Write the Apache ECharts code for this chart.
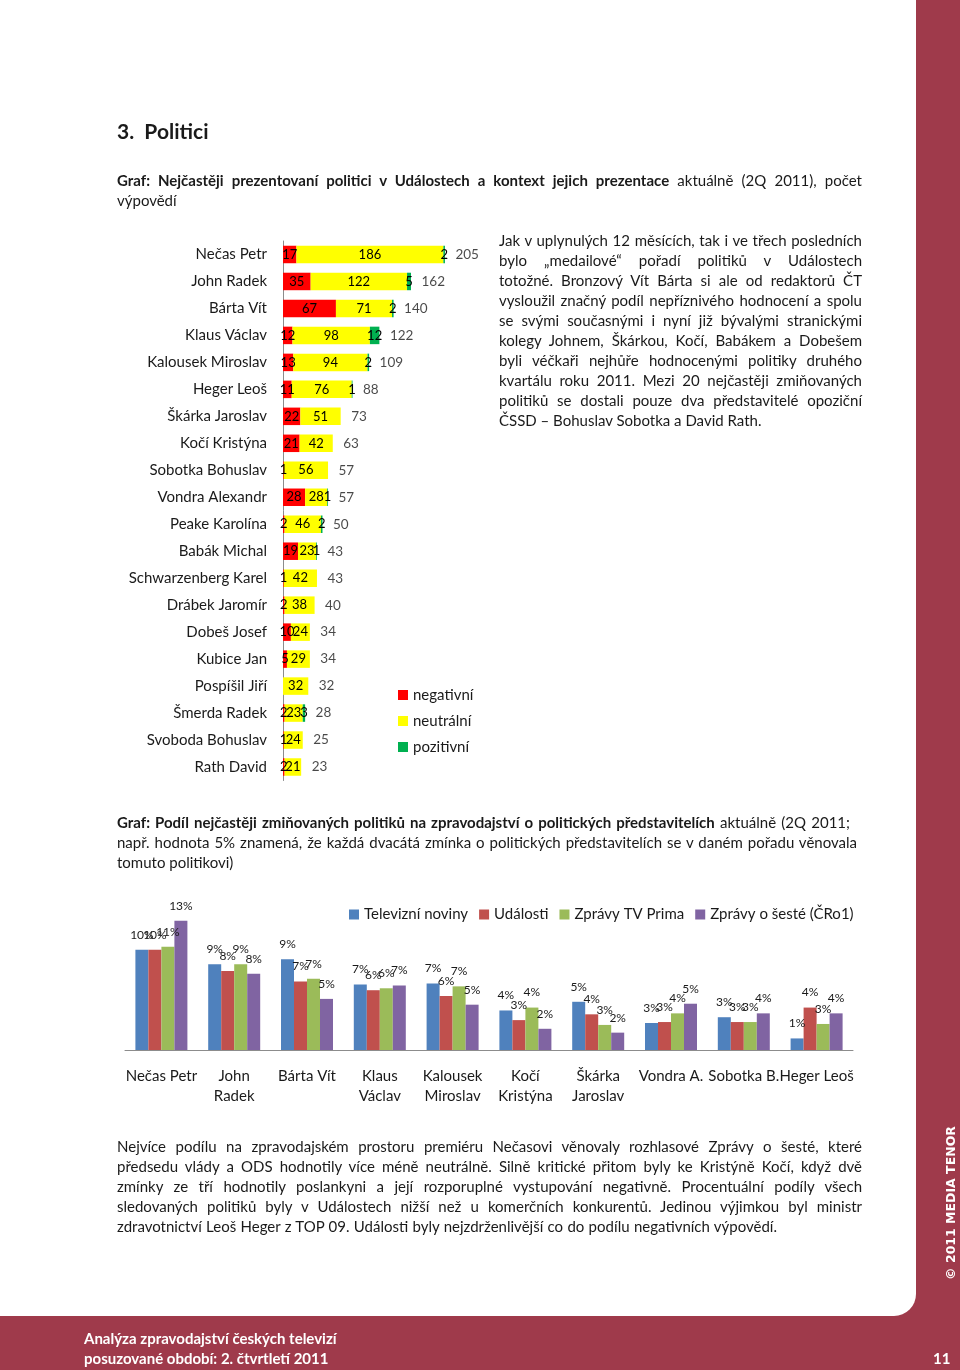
<!DOCTYPE html>
<html><head><meta charset="utf-8">
<script src="https://cdn.jsdelivr.net/npm/echarts@6/dist/echarts.min.js"></script>
<style>
html,body{margin:0;padding:0;}
body{width:960px;height:1370px;position:relative;background:#9F3A4B;overflow:hidden;font-family:Lato,'Liberation Sans',sans-serif;color:#1a1a1a;}
#page{position:absolute;left:0;top:0;width:916px;height:1316px;background:#fff;border-bottom-right-radius:22px;}
#chart{position:absolute;left:0;top:0;width:960px;height:1370px;}
.t{position:absolute;white-space:nowrap;font-size:15px;line-height:20px;}
.j{display:inline-block;}
.w{color:#fff;font-weight:bold;}
</style></head>
<body>
<div id="page"></div>
<div id="chart"></div>

<div class="t" style="left:117px;top:118px;font-size:21px;line-height:26px;font-weight:bold;">3.&nbsp; Politici</div>
<div class="t" style="left:117px;top:170px;"><span class="j" data-w="745"><b>Graf: Nejčastěji prezentovaní politici v Událostech a kontext jejich prezentace</b> aktuálně (2Q 2011), počet</span></div>
<div class="t" style="left:117px;top:190px;">výpovědí</div>

<div class="t" style="left:499px;top:230px;"><span class="j" data-w="363">Jak v uplynulých 12 měsících, tak i ve třech posledních</span></div>
<div class="t" style="left:499px;top:250px;"><span class="j" data-w="363">bylo „medailové“ pořadí politiků v Událostech</span></div>
<div class="t" style="left:499px;top:270px;"><span class="j" data-w="363">totožné. Bronzový Vít Bárta si ale od redaktorů ČT</span></div>
<div class="t" style="left:499px;top:290px;"><span class="j" data-w="363">vysloužil značný podíl nepříznivého hodnocení a spolu</span></div>
<div class="t" style="left:499px;top:310px;"><span class="j" data-w="363">se svými současnými i nyní již bývalými stranickými</span></div>
<div class="t" style="left:499px;top:330px;"><span class="j" data-w="363">kolegy Johnem, Škárkou, Kočí, Babákem a Dobešem</span></div>
<div class="t" style="left:499px;top:350px;"><span class="j" data-w="363">byli véčkaři nejhůře hodnocenými politiky druhého</span></div>
<div class="t" style="left:499px;top:370px;"><span class="j" data-w="363">kvartálu roku 2011. Mezi 20 nejčastěji zmiňovaných</span></div>
<div class="t" style="left:499px;top:390px;"><span class="j" data-w="363">politiků se dostali pouze dva představitelé opoziční</span></div>
<div class="t" style="left:499px;top:410px;">ČSSD – Bohuslav Sobotka a David Rath.</div>

<div class="t" style="left:117px;top:812px;"><span class="j" data-w="733"><b>Graf: Podíl nejčastěji zmiňovaných politiků na zpravodajství o politických představitelích</b> aktuálně (2Q 2011;</span></div>
<div class="t" style="left:117px;top:832px;"><span class="j" data-w="740">např. hodnota 5% znamená, že každá dvacátá zmínka o politických představitelích se v daném pořadu věnovala</span></div>
<div class="t" style="left:117px;top:852px;">tomuto politikovi)</div>

<div class="t" style="left:117px;top:1136px;"><span class="j" data-w="745">Nejvíce podílu na zpravodajském prostoru premiéru Nečasovi věnovaly rozhlasové Zprávy o šesté, které</span></div>
<div class="t" style="left:117px;top:1156px;"><span class="j" data-w="745">předsedu vlády a ODS hodnotily více méně neutrálně. Silně kritické přitom byly ke Kristýně Kočí, když dvě</span></div>
<div class="t" style="left:117px;top:1176px;"><span class="j" data-w="745">zmínky ze tří hodnotily poslankyni a její rozporuplné vystupování negativně. Procentuální podíly všech</span></div>
<div class="t" style="left:117px;top:1196px;"><span class="j" data-w="745">sledovaných politiků byly v Událostech nižší než u komerčních konkurentů. Jedinou výjimkou byl ministr</span></div>
<div class="t" style="left:117px;top:1216px;"><span class="j" data-w="660">zdravotnictví Leoš Heger z TOP 09. Události byly nejzdrženlivější co do podílu negativních výpovědí.</span></div>

<div class="t w" style="left:84px;top:1328px;">Analýza zpravodajství českých televizí</div>
<div class="t w" style="left:84px;top:1348px;">posuzované období: 2. čtvrtletí 2011</div>
<div class="t w" style="left:933px;top:1348px;">11</div>
<div class="t w" style="left:951px;top:1203px;transform:translate(-50%,-50%) rotate(-90deg);font-family:'DejaVu Sans',sans-serif;font-size:12.5px;letter-spacing:0px;">© 2011 MEDIA TENOR</div>

<script>
// ---- Chart 1: politicians, number of statements ----
const politicians = ['Nečas Petr','John Radek','Bárta Vít','Klaus Václav','Kalousek Miroslav','Heger Leoš','Škárka Jaroslav','Kočí Kristýna','Sobotka Bohuslav','Vondra Alexandr','Peake Karolína','Babák Michal','Schwarzenberg Karel','Drábek Jaromír','Dobeš Josef','Kubice Jan','Pospíšil Jiří','Šmerda Radek','Svoboda Bohuslav','Rath David'];
const negativni = [17,35,67,12,13,11,22,21,1,28,2,19,1,2,10,5,0,2,1,2];
const neutralni = [186,122,71,98,94,76,51,42,56,28,46,23,42,38,24,29,32,23,24,21];
const pozitivni = [2,5,2,12,2,1,0,0,0,1,2,1,0,0,0,0,0,3,0,0];
const sentimentNames = ['negativní','neutrální','pozitivní'];

// ---- Chart 2: share of coverage per programme (%) ----
const programmes = ['Televizní noviny','Události','Zprávy TV Prima','Zprávy o šesté (ČRo1)'];
const people = ['Nečas Petr','John\nRadek','Bárta Vít','Klaus\nVáclav','Kalousek\nMiroslav','Kočí\nKristýna','Škárka\nJaroslav','Vondra A.','Sobotka B.','Heger Leoš'];
const televizniNoviny = [10.4,8.9,9.4,6.8,6.9,4.1,5.0,2.8,3.4,1.2];
const udalosti        = [10.4,8.2,7.1,6.2,5.6,3.1,3.7,2.9,2.9,4.4];
const zpravyPrima     = [10.7,8.9,7.4,6.4,6.6,4.4,2.6,3.8,2.9,2.7];
const zpravyOSeste    = [13.4,7.9,5.3,6.7,4.7,2.2,1.8,4.8,3.8,3.8];

const totals = politicians.map((_, i) => negativni[i] + neutralni[i] + pozitivni[i]);

const FONT = 'Lato';
const inLabel = {show:true, position:'inside', fontSize:13, color:'#000', fontFamily:FONT,
  formatter: p => p.value ? String(p.value) : ''};
const topLabel = {show:true, position:'top', distance:9, fontSize:12, color:'#1a1a1a', fontFamily:FONT,
  formatter: p => Math.round(p.value) + '%'};

const bottomColors = ['#4F81BD','#C0504D','#9BBB59','#8064A2'];
const bottomData = [televizniNoviny, udalosti, zpravyPrima, zpravyOSeste];

const chart = echarts.init(document.getElementById('chart'), null, {renderer:'canvas'});
chart.setOption({
  animation:false,
  backgroundColor:'transparent',
  textStyle:{fontFamily:FONT},
  grid:[
    {left:283, top:241, width:197.5, height:539.5},
    {left:125, top:915, width:728, height:135}
  ],
  xAxis:[
    {gridIndex:0, type:'value', min:0, max:250, show:false},
    {gridIndex:1, type:'category', data:people,
     axisLine:{lineStyle:{color:'#8c8c8c'}},
     axisTick:{length:5, lineStyle:{color:'#8c8c8c'}},
     axisLabel:{fontSize:15, lineHeight:20, color:'#1a1a1a', margin:16, fontFamily:FONT, interval:0}}
  ],
  yAxis:[
    {gridIndex:0, type:'category', inverse:true, data:politicians,
     axisLine:{lineStyle:{color:'#8c8c8c'}},
     axisTick:{length:5, lineStyle:{color:'#8c8c8c'}},
     axisLabel:{fontSize:15, color:'#1a1a1a', margin:16, fontFamily:FONT, interval:0}},
    {gridIndex:1, type:'value', min:0, max:14, show:false}
  ],
  legend:[
    {orient:'vertical', left:393, top:682, data:sentimentNames, icon:'rect',
     itemWidth:10, itemHeight:10, itemGap:10,
     textStyle:{fontSize:15, lineHeight:16, color:'#1a1a1a', fontFamily:FONT}},
    {orient:'horizontal', left:344, top:902, data:programmes, icon:'rect',
     itemWidth:10, itemHeight:10, itemGap:11,
     textStyle:{fontSize:15, color:'#1a1a1a', fontFamily:FONT}}
  ],
  series:[
    {name:'negativní', type:'bar', stack:'s', xAxisIndex:0, yAxisIndex:0, data:negativni,
     barWidth:17.5, itemStyle:{color:'#FF0000'}, label:inLabel},
    {name:'neutrální', type:'bar', stack:'s', xAxisIndex:0, yAxisIndex:0, data:neutralni,
     barWidth:17.5, itemStyle:{color:'#FFFF00'}, label:inLabel},
    {name:'pozitivní', type:'bar', stack:'s', xAxisIndex:0, yAxisIndex:0, data:pozitivni,
     barWidth:17.5, itemStyle:{color:'#00B050'}, label:inLabel},
    {name:'celkem', type:'scatter', xAxisIndex:0, yAxisIndex:0, data:totals,
     symbolSize:1, itemStyle:{color:'rgba(0,0,0,0)'},
     label:{show:true, position:'right', distance:10, fontSize:13.5, color:'#1a1a1a', fontFamily:FONT,
            formatter:p => String(p.value)}},
    ...programmes.map((name, k) => ({
      name, type:'bar', xAxisIndex:1, yAxisIndex:1, data:bottomData[k],
      barWidth:13, barGap:'0%', itemStyle:{color:bottomColors[k]}, label:topLabel
    }))
  ]
});

// justify individual lines to their measured width in the reference
function justify(){
  document.querySelectorAll('.j').forEach(el => {
    el.style.wordSpacing = '0px';
    const target = parseFloat(el.dataset.w);
    const nat = el.getBoundingClientRect().width;
    const spaces = (el.textContent.match(/ /g) || []).length;
    if (spaces) el.style.wordSpacing = ((target - nat) / spaces) + 'px';
  });
}
justify();
if (document.fonts && document.fonts.ready) document.fonts.ready.then(justify);
</script>
</body></html>
